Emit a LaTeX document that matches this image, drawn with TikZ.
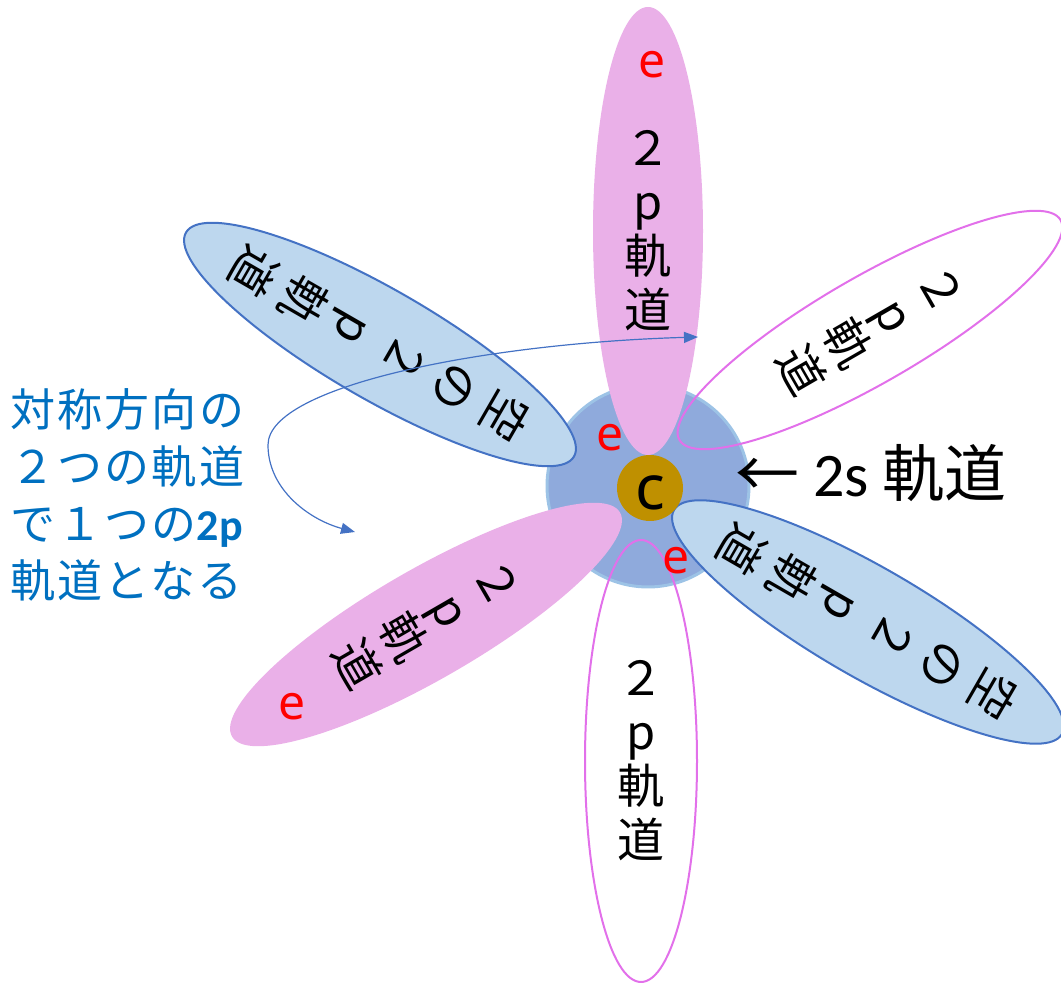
\documentclass[tikz,border=0pt]{standalone}
\usepackage{fontspec}
\usetikzlibrary{shapes.geometric,arrows.meta}
\newfontfamily\cjk{Noto Sans CJK JP}
\newfontfamily\cjkls[LetterSpace=5]{Noto Sans CJK JP}
\newfontfamily\carl{Carlito}
\newfontfamily\carlb{Carlito Bold}
\newfontfamily\nsans{Noto Sans}
\definecolor{pinkfill}{RGB}{234,176,232}
\definecolor{violetline}{RGB}{226,112,234}
\definecolor{bluefill}{RGB}{189,215,238}
\definecolor{blueline}{RGB}{68,114,196}
\definecolor{shellfill}{RGB}{143,170,220}
\definecolor{shellline}{RGB}{157,195,230}
\definecolor{corefill}{RGB}{191,144,0}
\definecolor{noteblue}{RGB}{0,112,192}
\begin{document}
\begin{tikzpicture}[x=1pt,y=1pt,
  petal/.style={ellipse, inner sep=0pt, minimum width=110pt, minimum height=448pt, line width=2pt},
  pinkpetal/.style={petal, fill=pinkfill},
  whitepetal/.style={petal, draw=violetline},
  bluepetal/.style={petal, fill=bluefill, draw=blueline},
  ptext/.style={align=center, inner sep=0pt, font=\cjk\fontsize{47}{54}\selectfont},
  btext/.style={align=center, inner sep=0pt, font=\cjk\fontsize{47}{58}\selectfont},
  elabel/.style={text=red, inner sep=0pt, font=\nsans\fontsize{48}{48}\selectfont},
  link/.style={draw=blueline, line width=1.2pt, {Triangle[length=14pt,width=11pt]}-{Triangle[length=14pt,width=11pt]}}
]
\useasboundingbox (0,0) rectangle (1061,983);
% 2s shell
\node[circle, minimum size=202pt, inner sep=0pt, fill=shellfill, draw=shellline, line width=3pt] (shell) at (648,497) {};
% petals (orbitals)
\node[pinkpetal] (ptop) at (648,752) {};
\node[pinkpetal, rotate=-60] (pll) at (426,358.5) {};
\node[bluepetal, rotate=-120] (bul) at (380,638.5) {};
\node[bluepetal, rotate=-120] (blr) at (868,361) {};
\node[whitepetal, minimum width=106pt, minimum height=440pt, rotate=-60] (wur) at (870,653) {};
\node[whitepetal, minimum width=112pt, minimum height=442pt] (wbot) at (641,222) {};
% petal texts
\node[ptext] (tptop) at (ptop.center) {２\\p\\軌\\道};
\node[ptext, rotate=-60] (tpll) at (pll.center) {２\\p\\軌\\道};
\node[btext, rotate=-120] (tbul) at (bul.center) {空\\の\\２\\p\\軌\\道};
\node[btext, rotate=-120] (tblr) at (blr.center) {空\\の\\２\\p\\軌\\道};
\node[ptext, rotate=-60] (twur) at (wur.center) {２\\p\\軌\\道};
\node[ptext] (twbot) at (wbot.center) {２\\p\\軌\\道};
% carbon core
\node[circle, minimum size=66pt, inner sep=0pt, fill=corefill] (core) at (650,495) {};
\node[inner sep=0pt, font=\nsans\fontsize{62}{62}\selectfont] (ctext) at (650,490) {c};
% electrons
\node[elabel] (e1) at (652,918) {e};
\node[elabel] (e2) at (610,545) {e};
\node[elabel] (e3) at (676,422) {e};
\node[elabel] (e4) at (292,276.5) {e};
% 2s label
\node[inner sep=0pt, font=\cjk\fontsize{64}{64}\selectfont] (arrowsym) at (767,505) {←};
\node[anchor=base west, inner sep=0pt, font=\cjk\fontsize{62}{62}\selectfont] (slabel) at (813,486) {{\carl 2s} 軌道};
% note
\node[anchor=west, align=left, inner sep=0pt, text=noteblue, font=\cjkls\fontsize{45}{57}\selectfont] (note) at (10,488)
  {対称方向の\\２つの軌道\\で１つの{\carlb\fontsize{44}{57}\selectfont 2p}\\軌道となる};
% double curved arrow
\coordinate (linkA) at (698,646);
\coordinate (linkB) at (355,451);
\draw[link] (linkA) .. controls (490,640) and (268,598) .. (268,538) .. controls (268,493) and (310,463) .. (linkB);
\end{tikzpicture}
\end{document}
